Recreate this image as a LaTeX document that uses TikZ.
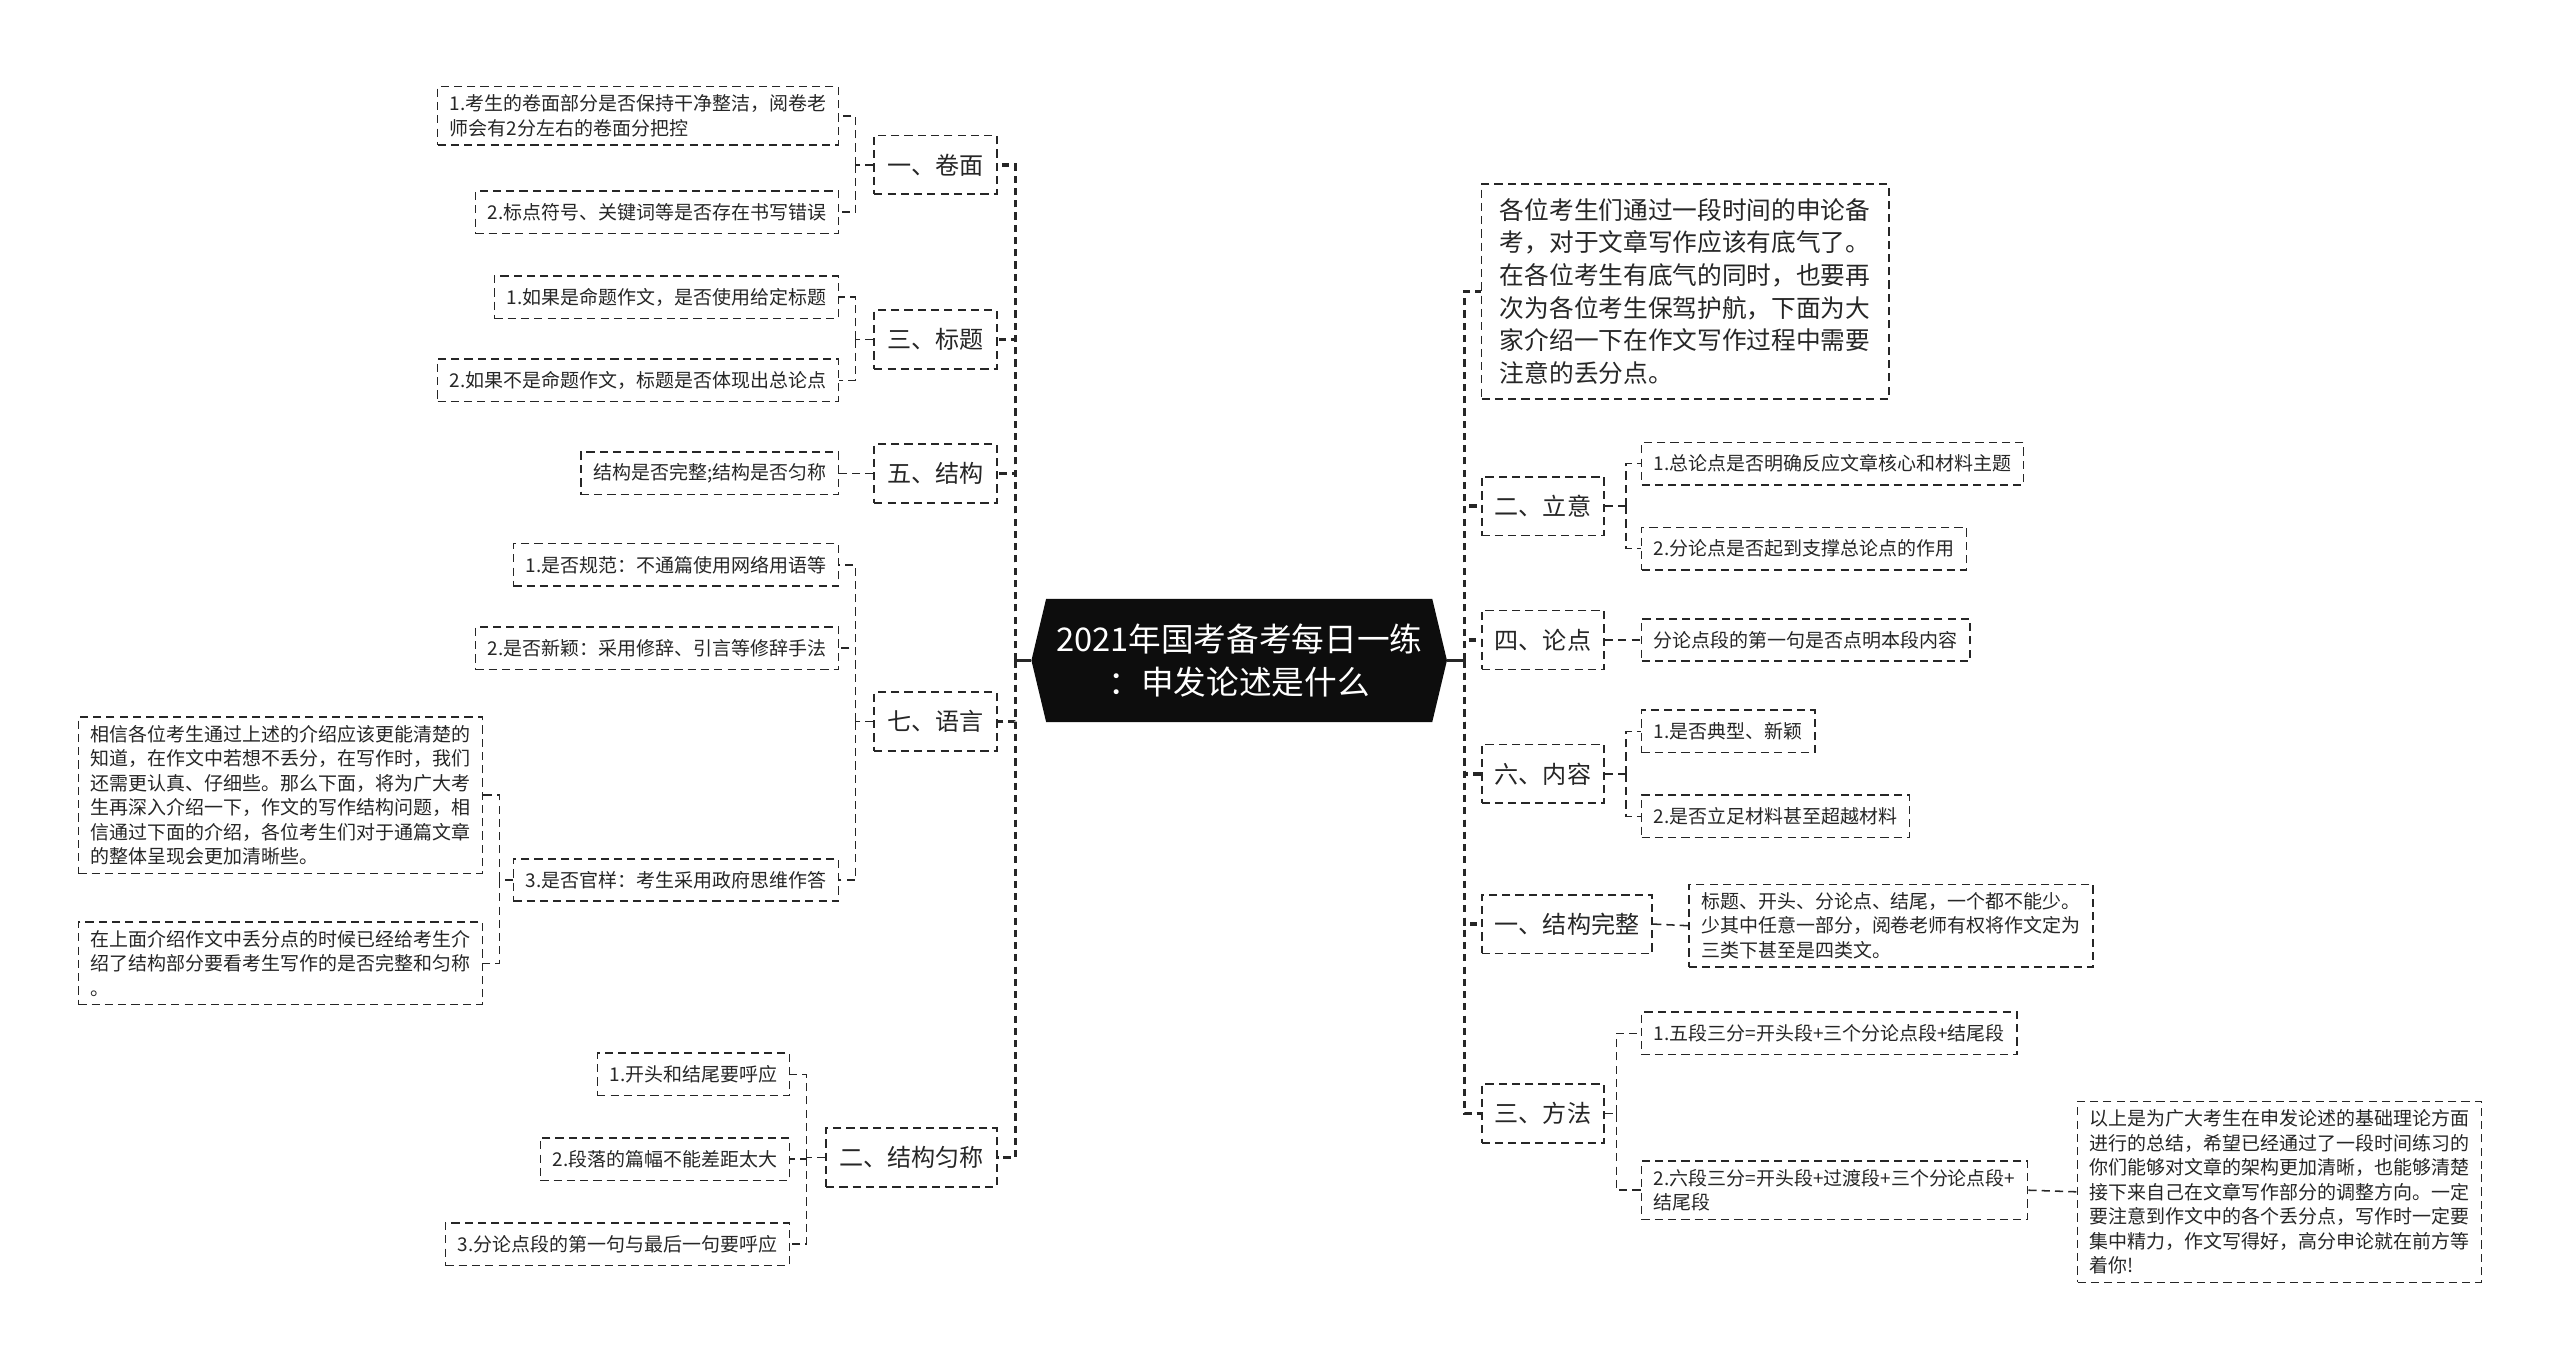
\documentclass[tikz,border=0pt]{standalone}
\usepackage{fontspec}
\setmainfont{Noto Sans CJK SC}
\usetikzlibrary{backgrounds}
\begin{document}
\begin{tikzpicture}[x=0.8pt,y=-0.8pt,
  txt/.style={text=black!85},
  box/.style={txt, draw=black!85, line width=0.75pt, dash pattern=on 4pt off 2.5pt, align=left},
  leaf/.style={box, inner xsep=6pt, inner ysep=4pt, minimum height=20.8pt, font=\fontsize{9.3pt}{12pt}\selectfont},
  br/.style={box, line width=0.85pt, inner xsep=6.4pt, inner ysep=3pt, minimum height=28.8pt, font=\fontsize{11.8pt}{14pt}\selectfont},
  intro/.style={box, inner xsep=9pt, inner ysep=7pt, font=\fontsize{12.1pt}{16pt}\selectfont},
  trunk/.style={draw=black!85, line width=1.6pt, dash pattern=on 3.5pt off 2.5pt},
  link/.style={draw=black!85, line width=0.75pt, dash pattern=on 4pt off 2.5pt},
  hub/.style={draw=black!85, line width=1.6pt},
]
\useasboundingbox (0,0) rectangle (1568,839);

% central node
\node[text=white, minimum width=203.2pt, minimum height=60pt, inner sep=0pt, align=center,
      font=\fontsize{16pt}{21pt}\selectfont] (c) at (759,404.5) {2021年国考备考每日一练\\：申发论述是什么};

\begin{scope}[on background layer]
\fill[white] (0,0) rectangle (1568,839);
\fill[black!95] (c.west) -- ([xshift=7.2pt]c.north west) -- ([xshift=-7.2pt]c.north east) -- (c.east)
  -- ([xshift=-7.2pt]c.south east) -- ([xshift=7.2pt]c.south west) -- cycle;
\end{scope}

% ---------- left side ----------
\node[br, anchor=east] (L1) at (611,101) {一、卷面};
\node[leaf, anchor=east] (L1a) at (514,71) {1.考生的卷面部分是否保持干净整洁，阅卷老\\师会有2分左右的卷面分把控};
\node[leaf, anchor=east] (L1b) at (514,130) {2.标点符号、关键词等是否存在书写错误};

\node[br, anchor=east] (L3) at (611,208) {三、标题};
\node[leaf, anchor=east] (L3a) at (514,182) {1.如果是命题作文，是否使用给定标题};
\node[leaf, anchor=east] (L3b) at (514,233) {2.如果不是命题作文，标题是否体现出总论点};

\node[br, anchor=east] (L5) at (611,290) {五、结构};
\node[leaf, anchor=east] (L5a) at (514,290) {结构是否完整;结构是否匀称};

\node[br, anchor=east] (L7) at (611,442) {七、语言};
\node[leaf, anchor=east] (L7a) at (514,346) {1.是否规范：不通篇使用网络用语等};
\node[leaf, anchor=east] (L7b) at (514,397) {2.是否新颖：采用修辞、引言等修辞手法};
\node[leaf, anchor=east] (L7c) at (514,539) {3.是否官样：考生采用政府思维作答};
\node[leaf, anchor=east] (L7c1) at (296,487) {相信各位考生通过上述的介绍应该更能清楚的\\知道，在作文中若想不丢分，在写作时，我们\\还需更认真、仔细些。那么下面，将为广大考\\生再深入介绍一下，作文的写作结构问题，相\\信通过下面的介绍，各位考生们对于通篇文章\\的整体呈现会更加清晰些。};
\node[leaf, anchor=east] (L7c2) at (296,590) {在上面介绍作文中丢分点的时候已经给考生介\\绍了结构部分要看考生写作的是否完整和匀称\\。};

\node[br, anchor=east] (L2) at (611,709) {二、结构匀称};
\node[leaf, anchor=east] (L2a) at (484,658) {1.开头和结尾要呼应};
\node[leaf, anchor=east] (L2b) at (484,710) {2.段落的篇幅不能差距太大};
\node[leaf, anchor=east] (L2c) at (484,762) {3.分论点段的第一句与最后一句要呼应};

% ---------- right side ----------
\node[intro, anchor=west] (R0) at (907,178.5) {各位考生们通过一段时间的申论备\\考，对于文章写作应该有底气了。\\在各位考生有底气的同时，也要再\\次为各位考生保驾护航，下面为大\\家介绍一下在作文写作过程中需要\\注意的丢分点。};

\node[br, anchor=west] (R2) at (907,310) {二、立意};
\node[leaf, anchor=west] (R2a) at (1005,284) {1.总论点是否明确反应文章核心和材料主题};
\node[leaf, anchor=west] (R2b) at (1005,336) {2.分论点是否起到支撑总论点的作用};

\node[br, anchor=west] (R4) at (907,392) {四、论点};
\node[leaf, anchor=west] (R4a) at (1005,392) {分论点段的第一句是否点明本段内容};

\node[br, anchor=west] (R6) at (907,474) {六、内容};
\node[leaf, anchor=west] (R6a) at (1005,448) {1.是否典型、新颖};
\node[leaf, anchor=west] (R6b) at (1005,500) {2.是否立足材料甚至超越材料};

\node[br, anchor=west] (R1) at (907,566) {一、结构完整};
\node[leaf, anchor=west] (R1a) at (1034,567) {标题、开头、分论点、结尾，一个都不能少。\\少其中任意一部分，阅卷老师有权将作文定为\\三类下甚至是四类文。};

\node[br, anchor=west] (R3) at (907,682) {三、方法};
\node[leaf, anchor=west] (R3a) at (1005,633) {1.五段三分=开头段+三个分论点段+结尾段};
\node[leaf, anchor=west] (R3b) at (1005,729) {2.六段三分=开头段+过渡段+三个分论点段+\\结尾段};
\node[leaf, anchor=west] (R3b1) at (1272,730) {以上是为广大考生在申发论述的基础理论方面\\进行的总结，希望已经通过了一段时间练习的\\你们能够对文章的架构更加清晰，也能够清楚\\接下来自己在文章写作部分的调整方向。一定\\要注意到作文中的各个丢分点，写作时一定要\\集中精力，作文写得好，高分申论就在前方等\\着你!};

% ---------- connectors ----------
\coordinate (LT) at (622,404.5);
\coordinate (RT) at (897,404.5);
\draw[hub] (c.west) -- (LT);
\draw[hub] (c.east) -- (RT);
\foreach \nm in {L1,L3,L5,L7,L2} \draw[trunk] (LT) |- (\nm.east);
\foreach \nm in {R0,R2,R4,R6,R1,R3} \draw[trunk] (RT) |- (\nm.west);

% left leaves
\draw[link] (L1.west) -- (524,101) coordinate (L1s);
\draw[link] (L1s) |- (L1a.east);
\draw[link] (L1s) |- (L1b.east);
\draw[link] (L3.west) -- (524,208) coordinate (L3s);
\draw[link] (L3s) |- (L3a.east);
\draw[link] (L3s) |- (L3b.east);
\draw[link] (L5.west) -- (L5a.east);
\draw[link] (L7.west) -- (524,442) coordinate (L7s);
\draw[link] (L7s) |- (L7a.east);
\draw[link] (L7s) |- (L7b.east);
\draw[link] (L7s) |- (L7c.east);
\draw[link] (L7c.west) -- (306,539) coordinate (L7cs);
\draw[link] (L7cs) |- (L7c1.east);
\draw[link] (L7cs) |- (L7c2.east);
\draw[link] (L2.west) -- (494,709) coordinate (L2s);
\draw[link] (L2s) |- (L2a.east);
\draw[link] (L2s) |- (L2b.east);
\draw[link] (L2s) |- (L2c.east);

% right leaves
\draw[link] (R2.east) -- (996,310) coordinate (R2s);
\draw[link] (R2s) |- (R2a.west);
\draw[link] (R2s) |- (R2b.west);
\draw[link] (R4.east) -- (R4a.west);
\draw[link] (R6.east) -- (996,474) coordinate (R6s);
\draw[link] (R6s) |- (R6a.west);
\draw[link] (R6s) |- (R6b.west);
\draw[link] (R1.east) -- (R1a.west);
\draw[link] (R3.east) -- (990,682) coordinate (R3s);
\draw[link] (R3s) |- (R3a.west);
\draw[link] (R3s) |- (R3b.west);
\draw[link] (R3b.east) -- (R3b1.west);
\end{tikzpicture}
\end{document}
